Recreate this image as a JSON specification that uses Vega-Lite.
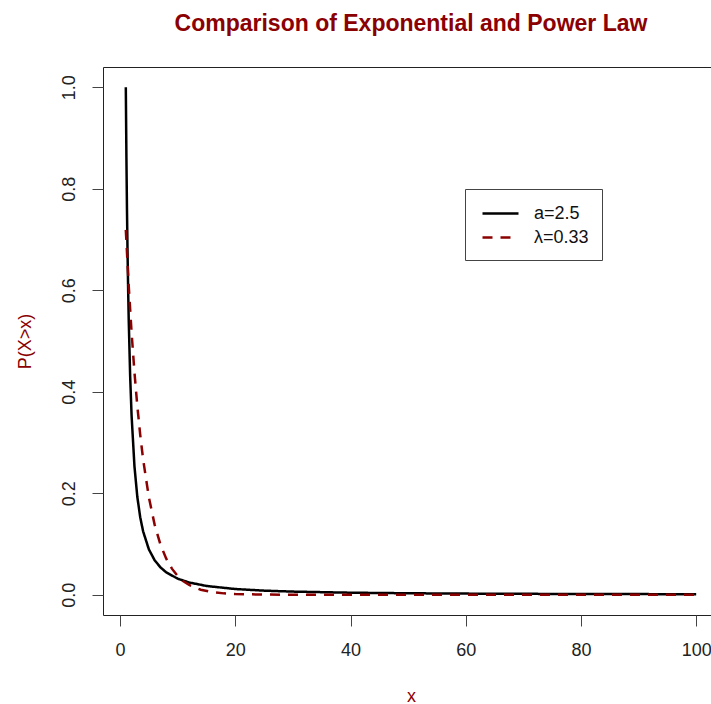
{
  "$schema": "https://vega.github.io/schema/vega-lite/v6.json",
  "autosize": {"type": "none"},
  "padding": {"left": 103, "top": 67, "right": 0, "bottom": 89},
  "width": 616,
  "height": 548,
  "background": "white",
  "title": {
    "text": "Comparison of Exponential and Power Law",
    "color": "#8B0000",
    "font": "Liberation Sans",
    "fontSize": 23,
    "fontWeight": "bold",
    "anchor": "middle",
    "frame": "group",
    "offset": 31
  },
  "config": {
    "view": {"stroke": "#222", "strokeWidth": 1},
    "axis": {
      "labelFont": "Liberation Sans",
      "titleFont": "Liberation Sans",
      "labelFontSize": 18,
      "labelColor": "#222",
      "titleFontSize": 18,
      "titleColor": "#8B0000",
      "titleFontWeight": "normal",
      "grid": false,
      "domain": false,
      "tickColor": "#444",
      "tickSize": 11,
      "tickWidth": 1
    }
  },
  "data": {
    "values": [
      {"x": 1, "p": 1.0, "series": "a=2.5"},
      {"x": 1.1, "p": 0.8668, "series": "a=2.5"},
      {"x": 1.2, "p": 0.7607, "series": "a=2.5"},
      {"x": 1.3, "p": 0.6747, "series": "a=2.5"},
      {"x": 1.4, "p": 0.6037, "series": "a=2.5"},
      {"x": 1.5, "p": 0.5443, "series": "a=2.5"},
      {"x": 1.75, "p": 0.432, "series": "a=2.5"},
      {"x": 2, "p": 0.3536, "series": "a=2.5"},
      {"x": 2.5, "p": 0.253, "series": "a=2.5"},
      {"x": 3, "p": 0.1925, "series": "a=2.5"},
      {"x": 3.5, "p": 0.1527, "series": "a=2.5"},
      {"x": 4, "p": 0.125, "series": "a=2.5"},
      {"x": 5, "p": 0.0894, "series": "a=2.5"},
      {"x": 6, "p": 0.068, "series": "a=2.5"},
      {"x": 7, "p": 0.054, "series": "a=2.5"},
      {"x": 8, "p": 0.0442, "series": "a=2.5"},
      {"x": 10, "p": 0.0316, "series": "a=2.5"},
      {"x": 12, "p": 0.0241, "series": "a=2.5"},
      {"x": 15, "p": 0.0172, "series": "a=2.5"},
      {"x": 20, "p": 0.0112, "series": "a=2.5"},
      {"x": 25, "p": 0.008, "series": "a=2.5"},
      {"x": 30, "p": 0.0061, "series": "a=2.5"},
      {"x": 40, "p": 0.00395, "series": "a=2.5"},
      {"x": 50, "p": 0.00283, "series": "a=2.5"},
      {"x": 60, "p": 0.00215, "series": "a=2.5"},
      {"x": 70, "p": 0.00171, "series": "a=2.5"},
      {"x": 80, "p": 0.0014, "series": "a=2.5"},
      {"x": 90, "p": 0.00117, "series": "a=2.5"},
      {"x": 100, "p": 0.001, "series": "a=2.5"},
      {"x": 1, "p": 0.7189, "series": "λ=0.33"},
      {"x": 1.5, "p": 0.6096, "series": "λ=0.33"},
      {"x": 2, "p": 0.5169, "series": "λ=0.33"},
      {"x": 2.5, "p": 0.4382, "series": "λ=0.33"},
      {"x": 3, "p": 0.3716, "series": "λ=0.33"},
      {"x": 3.5, "p": 0.3151, "series": "λ=0.33"},
      {"x": 4, "p": 0.2671, "series": "λ=0.33"},
      {"x": 5, "p": 0.192, "series": "λ=0.33"},
      {"x": 6, "p": 0.1381, "series": "λ=0.33"},
      {"x": 7, "p": 0.0993, "series": "λ=0.33"},
      {"x": 8, "p": 0.0714, "series": "λ=0.33"},
      {"x": 9, "p": 0.0513, "series": "λ=0.33"},
      {"x": 10, "p": 0.0369, "series": "λ=0.33"},
      {"x": 11, "p": 0.0265, "series": "λ=0.33"},
      {"x": 12, "p": 0.0191, "series": "λ=0.33"},
      {"x": 14, "p": 0.00985, "series": "λ=0.33"},
      {"x": 16, "p": 0.00509, "series": "λ=0.33"},
      {"x": 18, "p": 0.00263, "series": "λ=0.33"},
      {"x": 20, "p": 0.00136, "series": "λ=0.33"},
      {"x": 25, "p": 0.00026, "series": "λ=0.33"},
      {"x": 30, "p": 0.00005, "series": "λ=0.33"},
      {"x": 40, "p": 0.0, "series": "λ=0.33"},
      {"x": 60, "p": 0.0, "series": "λ=0.33"},
      {"x": 80, "p": 0.0, "series": "λ=0.33"},
      {"x": 100, "p": 0.0, "series": "λ=0.33"}
    ]
  },
  "mark": {"type": "line", "strokeWidth": 2.5},
  "encoding": {
    "x": {
      "field": "x",
      "type": "quantitative",
      "scale": {"domain": [-2.96, 103.96], "nice": false, "zero": false},
      "axis": {
        "values": [0, 20, 40, 60, 80, 100],
        "labelPadding": 15,
        "title": "x",
        "titleX": 308,
        "titleY": 81,
        "titleBaseline": "middle"
      }
    },
    "y": {
      "field": "p",
      "type": "quantitative",
      "scale": {"domain": [-0.04, 1.04], "nice": false, "zero": false},
      "axis": {
        "values": [0, 0.2, 0.4, 0.6, 0.8, 1.0],
        "format": ".1f",
        "labelAngle": -90,
        "labelAlign": "center",
        "labelBaseline": "bottom",
        "labelPadding": 14,
        "title": "P(X>x)",
        "titleAngle": -90,
        "titleX": -78,
        "titleY": 274,
        "titleAlign": "center",
        "titleBaseline": "middle"
      }
    },
    "color": {
      "field": "series",
      "type": "nominal",
      "scale": {"domain": ["a=2.5", "λ=0.33"], "range": ["#000000", "#8B0000"]},
      "legend": {
        "title": null,
        "orient": "none",
        "legendX": 362,
        "legendY": 122,
        "strokeColor": "#444",
        "fillColor": "white",
        "padding": 13,
        "symbolType": "M-0.7,0H2.9",
        "symbolSize": 400,
        "symbolStrokeWidth": 2.5,
        "labelFont": "Liberation Sans",
        "labelFontSize": 18,
        "labelColor": "#111",
        "labelOffset": 33,
        "rowPadding": 3
      }
    },
    "strokeDash": {
      "field": "series",
      "type": "nominal",
      "scale": {"domain": ["a=2.5", "λ=0.33"], "range": [[1, 0], [10, 8]]},
      "legend": null
    }
  }
}
